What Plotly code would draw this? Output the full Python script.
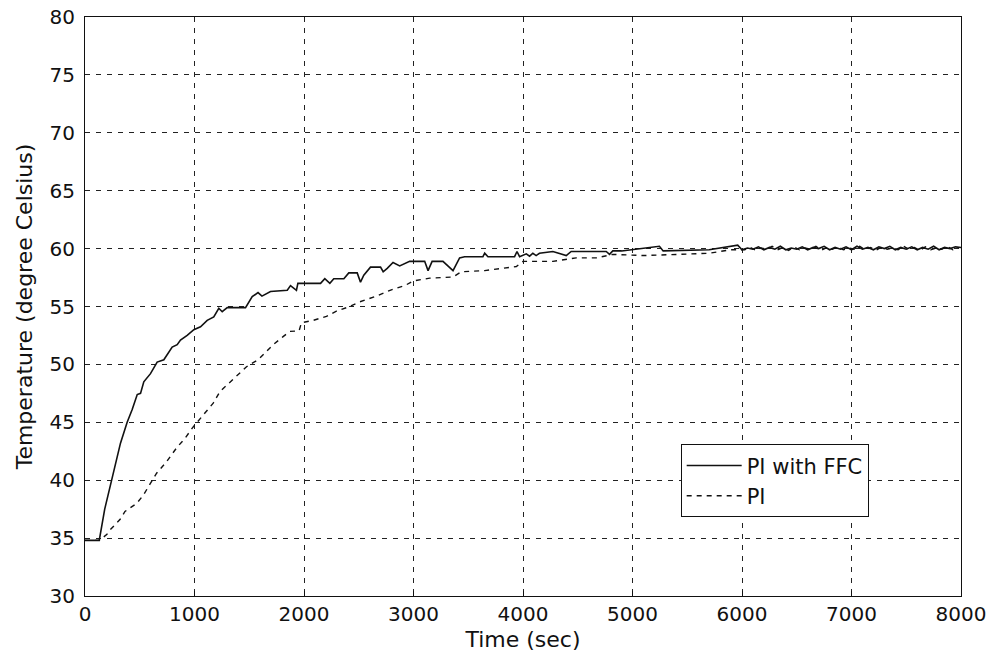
import plotly.graph_objects as go

# PI with FFC (solid)
t_ffc = [0, 130, 180, 233, 279, 324, 385, 431, 477, 507, 537, 598, 659, 720, 796, 842, 872, 933, 994,
         1055, 1116, 1176, 1222, 1253, 1299, 1466, 1527, 1580, 1616, 1694, 1847, 1877, 1931, 1944,
         2151, 2190, 2236, 2272, 2364, 2409, 2486, 2516, 2546, 2607, 2699, 2723, 2760, 2813, 2874, 2965,
         3102, 3133, 3170, 3269, 3361, 3421, 3467, 3634, 3650, 3680, 3923, 3945, 3969,
         4030, 4060, 4090, 4120, 4150, 4273, 4395, 4440, 4760, 4790, 4820, 4900, 5246, 5280, 5600, 5700, 5961, 6000,
         6050, 6100, 6150, 6200, 6250, 6300, 6350, 6400, 6450, 6500, 6550, 6600, 6650, 6700, 6750, 6800, 6850,
         6900, 6950, 7000, 7050, 7100, 7150, 7200, 7250, 7300, 7350, 7400, 7450, 7500, 7550, 7600, 7650, 7700,
         7750, 7800, 7850, 7900, 7950, 8000]
y_ffc = [34.8, 34.8, 37.5, 39.7, 41.5, 43.2, 45.0, 46.1, 47.4, 47.5, 48.5, 49.2, 50.2, 50.4, 51.5, 51.7, 52.1, 52.5, 53.0,
         53.25, 53.8, 54.1, 54.85, 54.55, 54.9, 54.9, 55.85, 56.2, 55.9, 56.3, 56.4, 56.8, 56.4, 57.0,
         57.0, 57.4, 57.0, 57.4, 57.4, 57.9, 57.9, 57.1, 57.7, 58.4, 58.4, 58.0, 58.3, 58.8, 58.5, 58.9,
         58.9, 58.1, 58.9, 58.9, 58.1, 59.2, 59.3, 59.3, 59.6, 59.3, 59.3, 59.75, 59.3,
         59.55, 59.35, 59.6, 59.4, 59.6, 59.75, 59.4, 59.75, 59.75, 59.5, 59.8, 59.8, 60.2, 59.8, 59.85, 59.9, 60.3, 59.9,
         60.05, 59.95, 60.15, 59.9, 60.1, 59.95, 60.2, 59.9, 60.05, 59.95, 60.15, 59.9, 60.1, 60.0, 60.2, 59.9, 60.1,
         59.95, 60.15, 59.9, 60.2, 59.95, 60.1, 59.9, 60.15, 60.0, 60.2, 59.9, 60.1, 59.95, 60.15, 59.9, 60.1, 59.95,
         60.2, 59.9, 60.1, 60.0, 60.15, 60.1]

# PI (dashed)
t_pi = [0, 130, 198, 228, 319, 365, 472, 532, 654, 745, 837, 912, 988, 1079, 1171, 1232, 1293, 1414, 1475,
        1581, 1642, 1718, 1809, 1870, 1955, 1977, 2083, 2205, 2296, 2418, 2509, 2661, 2813, 2920, 2996,
        3148, 3361, 3437, 3650, 3939, 4000, 4273, 4486, 4668, 4821, 5094, 5429, 5700, 5900,
        6025, 6075, 6125, 6175, 6225, 6275, 6325, 6375, 6425, 6475, 6525, 6575, 6625, 6675, 6725, 6775, 6825,
        6875, 6925, 6975, 7025, 7075, 7125, 7175, 7225, 7275, 7325, 7375, 7425, 7475, 7525, 7575, 7625, 7675,
        7725, 7775, 7825, 7875, 7925, 7975]
y_pi = [34.8, 34.8, 35.3, 35.7, 36.6, 37.3, 38.0, 38.7, 40.6, 41.6, 42.8, 43.6, 44.6, 45.6, 46.65, 47.65, 48.2, 49.25, 49.8,
        50.4, 50.95, 51.7, 52.4, 52.85, 52.9, 53.6, 53.8, 54.15, 54.6, 55.0, 55.4, 55.9, 56.5, 56.8, 57.2,
        57.45, 57.55, 58.0, 58.1, 58.45, 58.9, 58.9, 59.2, 59.2, 59.5, 59.4, 59.5, 59.6, 59.9,
        59.9, 60.1, 59.85, 60.05, 59.95, 60.2, 59.9, 60.1, 59.85, 60.15, 59.9, 60.05, 59.95, 60.2, 59.85, 60.1, 59.95,
        60.15, 59.9, 60.05, 59.95, 60.2, 59.9, 60.1, 59.85, 60.15, 59.95, 60.05, 59.9, 60.2, 59.95, 60.1, 59.85, 60.15,
        59.9, 60.05, 59.95, 60.2, 59.9, 60.1]

x_ticks = [0, 1000, 2000, 3000, 4000, 5000, 6000, 7000, 8000]
y_ticks = [30, 35, 40, 45, 50, 55, 60, 65, 70, 75, 80]

FONT = "DejaVu Sans"

fig = go.Figure()
fig.add_trace(go.Scatter(x=t_ffc, y=y_ffc, mode="lines", name="PI with FFC",
                         line=dict(color="#111111", width=1.6)))
fig.add_trace(go.Scatter(x=t_pi, y=y_pi, mode="lines", name="PI",
                         line=dict(color="#111111", width=1.4, dash="5px,5px")))

axis_common = dict(showline=True, linecolor="#111111", linewidth=1.2, mirror=True,
                   showgrid=True, gridcolor="#222222", gridwidth=1, griddash="5px,6px",
                   zeroline=False, tickfont=dict(family=FONT, size=20, color="#111111"))

fig.update_xaxes(range=[0, 8000], tickvals=x_ticks, ticktext=[str(v) for v in x_ticks],
                 ticks="inside", ticklen=5, tickcolor="#111111",
                 title=dict(text="Time (sec)", font=dict(family=FONT, size=22, color="#111111"), standoff=6),
                 **axis_common)
fig.update_yaxes(range=[30, 80], tickvals=y_ticks, ticktext=[str(v) for v in y_ticks],
                 ticks="outside", ticklen=5, tickcolor="white", automargin=True,
                 title=dict(text="Temperature (degree Celsius)", font=dict(family=FONT, size=22, color="#111111"), standoff=10),
                 **axis_common)

fig.update_layout(
    width=997, height=660,
    margin=dict(l=85, r=36, t=17, b=64, autoexpand=False),
    paper_bgcolor="white", plot_bgcolor="white",
    showlegend=True,
    legend=dict(x=0.680, y=0.262, xanchor="left", yanchor="top",
                bgcolor="white", bordercolor="#111111", borderwidth=1,
                font=dict(family=FONT, size=21, color="#111111"),
                itemwidth=55, tracegroupgap=0),
)

fig.write_html("out.html")
